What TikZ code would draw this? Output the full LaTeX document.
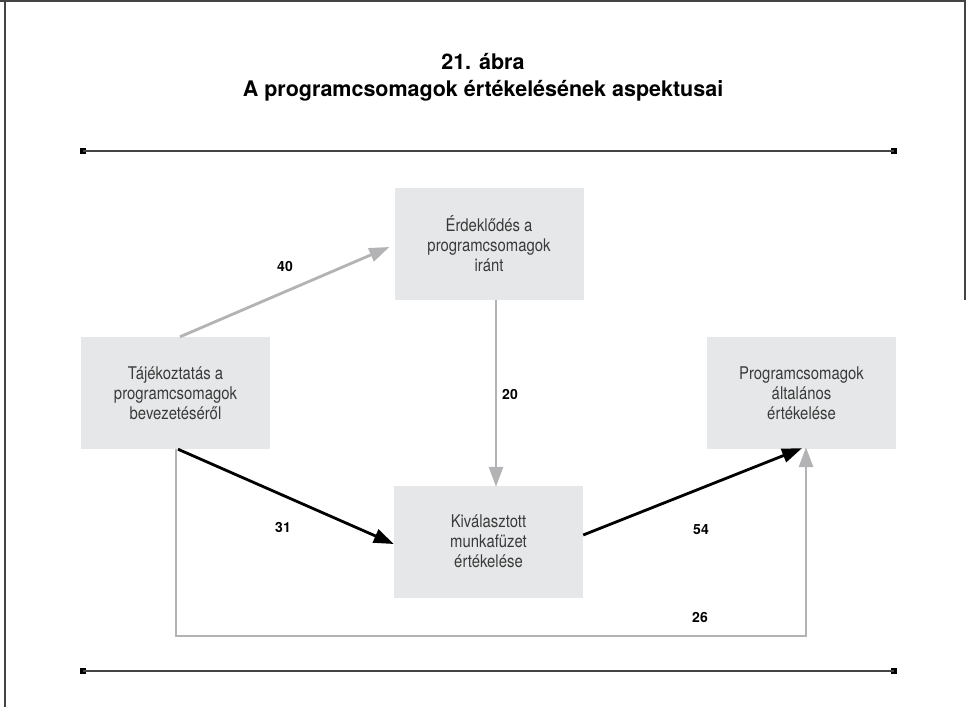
\documentclass[tikz,border=0pt]{standalone}
\usepackage{fontspec}
\setmainfont{TeX Gyre Heros}
\newfontfamily\condfont[FakeStretch=0.85]{TeX Gyre Heros}
\newfontfamily\boldfont{TeX Gyre Heros Bold}
\usetikzlibrary{arrows.meta}
\definecolor{boxfill}{HTML}{E6E7E8}
\definecolor{arrgray}{HTML}{B3B3B5}
\definecolor{rulegray}{HTML}{444444}
\definecolor{txtgray}{HTML}{3A3A3A}
\begin{document}
\begin{tikzpicture}[x=1pt,y=-1pt,
  box/.style={fill=boxfill, draw=none, minimum width=189pt, minimum height=112pt,
    align=center, inner sep=0pt, text=txtgray,
    font=\condfont\fontsize{17.5}{20}\selectfont},
  grayarr/.style={draw=arrgray, line width=2.8pt, -{Triangle[length=20pt,width=14pt]}},
  blackarr/.style={draw=black, line width=2.8pt, -{Triangle[length=20pt,width=14pt]}},
  lbl/.style={font=\boldfont\fontsize{14}{16}\selectfont, inner sep=0pt},
  endsq/.style={fill=black, draw=none, minimum size=6pt, inner sep=0pt},
  rulel/.style={draw=rulegray, line width=1.8pt}
]
\useasboundingbox (0,0) rectangle (966,707);
\fill[white] (0,0) rectangle (966,707);
% frame
\coordinate (f1) at (0,1);
\coordinate (f2) at (966,1);
\coordinate (f3) at (4.5,0);
\coordinate (f4) at (4.5,707);
\coordinate (f5) at (964.5,0);
\coordinate (f6) at (964.5,300);
\draw[rulegray, line width=2pt] (f1) -- (f2);
\draw[rulegray, line width=2pt] (f3) -- (f4);
\draw[rulegray, line width=2pt] (f5) -- (f6);
% title
\node[font=\boldfont\fontsize{21.5}{27}\selectfont, align=center, inner sep=0pt] (title) at (483,77)
  {21. ábra\\A programcsomagok értékelésének aspektusai};
% rules
\node[endsq] (r1a) at (83,151) {};
\node[endsq] (r1b) at (894,151) {};
\draw[rulel] (r1a.center) -- (r1b.center);
\node[endsq] (r2a) at (83,671) {};
\node[endsq] (r2b) at (894,671) {};
\draw[rulel] (r2a.center) -- (r2b.center);
% boxes
\node[box] (T) at (489,243.5) {Érdeklődés a\\programcsomagok\\iránt};
\node[box] (L) at (175.5,393) {Tájékoztatás a\\programcsomagok\\bevezetéséről};
\node[box] (M) at (488.5,541.5) {Kiválasztott\\munkafüzet\\értékelése};
\node[box] (R) at (801.5,393) {Programcsomagok\\általános\\értékelése};
% connectors
\draw[grayarr] ([xshift=4.5pt]L.north) -- ([xshift=-5pt,yshift=-3.5pt]T.west);
\draw[grayarr] ([xshift=7pt]T.south) -- ([xshift=7.5pt,yshift=-1.5pt]M.north);
\draw[blackarr] ([xshift=2.5pt]L.south) -- ([yshift=-2.5pt]M.west);
\draw[blackarr] ([yshift=6.5pt]M.east) -- ([xshift=0.5pt,yshift=1pt]R.south);
\coordinate (c1) at (176,636);
\coordinate (c2) at (806,636);
\draw[grayarr] ([xshift=0.5pt]L.south) -- (c1) -- (c2) -- ([xshift=4.5pt,yshift=2pt]R.south);
% labels
\node[lbl] (l40) at (285,266) {40};
\node[lbl] (l20) at (510,394) {20};
\node[lbl] (l31) at (283,527) {31};
\node[lbl] (l54) at (701,530) {54};
\node[lbl] (l26) at (700,617) {26};
\end{tikzpicture}
\end{document}
